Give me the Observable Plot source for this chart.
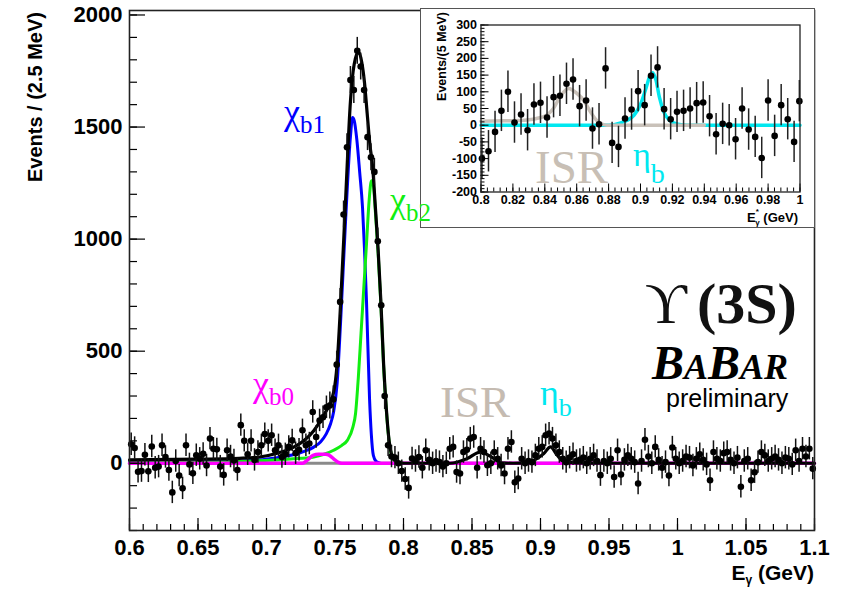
<!DOCTYPE html>
<html>
<head>
<meta charset="utf-8">
<script src="https://cdn.jsdelivr.net/npm/d3@7"></script>
<script src="https://cdn.jsdelivr.net/npm/@observablehq/plot@0.6"></script>
<style>
  html, body { margin: 0; background: #fff; }
  #chart { position: relative; width: 843px; height: 589px; overflow: hidden; background: #fff; }
  #chart > * { position: absolute; }
  #main { left: 0; top: 0; }
  #inset { left: 420px; top: 8px; width: 395px; height: 220px; box-sizing: border-box; border: 1.5px solid #555; background: #fff; }
  #labels { left: 0; top: 0; pointer-events: none; }
</style>
</head>
<body>
<div id="chart">
  <div id="main"></div>
  <div id="inset"></div>
</div>
<script>
// ---------- Full photon spectrum: 2.5 MeV bins, 0.6 - 1.1 GeV ----------
const binLow = 0.6;
const binWidth = 0.0025;
const counts = [
  85, 68, -38, -35, 38, -36, 75, -20, -15, 80,
  28, -30, -130, 10, -55, -112, 80, -5, -45, 36,
  20, 42, -10, 110, 65, 62, -15, -52, 58, 30,
  12, -30, 170, 100, 40, 100, 15, 50, 80, 130,
  100, 125, 58, 80, 28, 40, 73, 102, 45, 60,
  147, 80, 88, 229, 117, 191, 205, 250, 258, 285,
  440, 720, 1110, 1410, 1710, 1665, 1840, 1770, 1665, 1455,
  1365, 1300, 990, 705, 300, 80, 30, 25, 0, -35,
  -70, -110, 21, 10, 28, -20, 58, 15, 0, 10,
  5, -15, 0, 65, 73, -39, -46, 50, 60, 110,
  117, -20, 65, 50, -9, 0, 50, 20, -10, -46,
  65, 95, -85, -68, 20, 0, 10, 5, 35, 65,
  73, 125, 132, 110, 80, 50, 20, 5, 25, 40,
  10, 15, 25, 0, 20, 35, 10, -53, 10, 0,
  20, -61, 58, -50, 15, 35, 20, 5, -90, 10,
  105, 30, 0, 73, 15, -20, 5, -55, 70, 20,
  0, 10, 30, 25, -10, 20, 40, 15, -5, -76,
  50, 20, 10, 45, 50, 15, 0, 25, -105, 10,
  20, -76, -40, 5, 50, 35, 10, 20, 30, 15,
  0, 25, 20, -5, 58, 10, 65, 30, 65, -24
];
const errPeak = 60;   // statistical error on the chi_b peak bins
const errFlat = 50;   // statistical error elsewhere

// fitted components, sampled as [E (GeV), events]
const chib1Fit = [[0.6,4],[0.65,6],[0.69,12],[0.705,22],[0.715,32],[0.727,52],[0.7345,72],[0.7394,95],[0.7435,130],[0.7467,175],[0.749,230],[0.7516,360],[0.754,620],[0.7577,1080],[0.7613,1460],[0.7628,1543],[0.764,1530],[0.766,1440],[0.768,1300],[0.7701,1140],[0.7715,960],[0.773,720],[0.7752,290],[0.7765,130],[0.778,35],[0.78,8],[0.783,0]];
const chib2Fit = [[0.6,2],[0.65,4],[0.69,10],[0.7175,19],[0.7345,28],[0.742,40],[0.749,58],[0.755,80],[0.759,102],[0.763,160],[0.765,222],[0.767,380],[0.769,580],[0.771,780],[0.773,980],[0.775,1180],[0.7766,1260],[0.778,1240],[0.7795,1120],[0.7815,935],[0.7835,705],[0.7855,430],[0.7875,235],[0.7895,97],[0.7915,33],[0.794,9],[0.797,1],[0.8,0]];
const chib0Fit = [[0.6,0],[0.7263,0],[0.73,15],[0.734,35],[0.738,40],[0.743,40],[0.746,35],[0.749,20],[0.752,6],[0.755,0],[1.1,0]];
const totalFit = [[0.6,15],[0.65,18],[0.68,22],[0.695,28],[0.7078,45],[0.7175,65],[0.7272,100],[0.7345,145],[0.7418,215],[0.7491,320],[0.7515,440],[0.754,700],[0.7577,1171],[0.7613,1617],[0.764,1780],[0.7672,1835],[0.7695,1790],[0.7715,1700],[0.7735,1560],[0.7755,1420],[0.7775,1320],[0.7795,1140],[0.7815,950],[0.7835,720],[0.7855,440],[0.7875,240],[0.7895,100],[0.7915,35],[0.794,10],[0.797,2],[0.8,0],[0.834,0],[0.8465,21],[0.856,50],[0.866,21],[0.871,2],[0.88,0],[0.89,3],[0.8951,13],[0.9024,43],[0.9073,73],[0.9122,36],[0.917,8],[0.925,2],[0.94,0],[1.1,0]];
const zeroLine = [[0.6,0],[1.1,0]];

const xTicks = [0.6, 0.65, 0.7, 0.75, 0.8, 0.85, 0.9, 0.95, 1, 1.05, 1.1];
const xTickLabels = ["0.6","0.65","0.7","0.75","0.8","0.85","0.9","0.95","1","1.05","1.1"];
const yTicks = [0, 500, 1000, 1500, 2000];
const yTickLabels = ["0","500","1000","1500","2000"];

// ---------- Zoom on 0.8 - 1.0 GeV after chi_b subtraction ----------
const insetE = [0.8006,0.8047,0.8088,0.8128,0.8169,0.8210,0.8251,0.8292,0.8332,0.8373,
  0.8414,0.8455,0.8495,0.8536,0.8577,0.8618,0.8659,0.8699,0.8740,0.8781,
  0.8822,0.8862,0.8903,0.8944,0.8985,0.9026,0.9066,0.9107,0.9148,0.9189,
  0.9229,0.9270,0.9311,0.9352,0.9393,0.9433,0.9474,0.9515,0.9556,0.9596,
  0.9637,0.9678,0.9719,0.9760,0.9800,0.9841,0.9882,0.9923,0.9963,0.9996];
const insetCounts = [-100,-78,-20,43,100,8,32,-15,62,67,
  23,84,88,124,137,57,74,-10,3,170,
  -53,-65,20,47,102,60,148,173,48,18,
  40,43,50,66,68,27,-27,4,0,-42,
  50,-13,-35,-98,74,-32,60,18,-50,72];
const insetErr = 62;
const isrFit = [[0.8,12],[0.815,13],[0.8243,14],[0.8348,20],[0.8411,30],[0.8454,50],[0.8496,85],[0.8549,110],[0.8601,95],[0.8643,75],[0.8686,40],[0.8728,13],[0.8759,3],[0.879,0],[0.94,0]];
const etabFit = [[0.8,0],[0.88,0],[0.8876,7],[0.8918,15],[0.896,30],[0.9002,65],[0.9034,110],[0.9061,150],[0.9076,157],[0.9097,135],[0.9118,85],[0.9146,40],[0.9181,15],[0.9234,3],[0.9297,0],[1.0,0]];

const insetXTicks = [0.8, 0.82, 0.84, 0.86, 0.88, 0.9, 0.92, 0.94, 0.96, 0.98, 1];
const insetXLabels = ["0.8","0.82","0.84","0.86","0.88","0.9","0.92","0.94","0.96","0.98","1"];
const insetYTicks = [-200, -150, -100, -50, 0, 50, 100, 150, 200, 250, 300];
const insetYLabels = ["-200","-150","-100","-50","0","50","100","150","200","250","300"];

// ---------- drawing ----------
const SANS = "'Liberation Sans', Arial, Helvetica, sans-serif";
const SERIF = "'Liberation Serif', 'Times New Roman', 'DejaVu Serif', serif";
const pt = {x: d => d[0], y: d => d[1]};

const mainData = counts.map((c, i) => ({
  E: binLow + binWidth * (i + 0.5),
  n: c,
  err: c > 250 ? errPeak : errFlat
}));

const mainPlot = Plot.plot({
  width: 843, height: 589,
  marginLeft: 129, marginRight: 29, marginTop: 10, marginBottom: 59,
  x: {domain: [0.6, 1.1]},
  y: {domain: [-300, 2020]},
  style: {fontFamily: SANS, background: "transparent", color: "#000", overflow: "visible"},
  marks: [
    Plot.line(zeroLine, {...pt, stroke: "#8a8a8a", strokeWidth: 3}),
    Plot.line(chib1Fit, {...pt, stroke: "#0000ff", strokeWidth: 3, curve: "monotone-x"}),
    Plot.line(chib2Fit, {...pt, stroke: "#11ee11", strokeWidth: 3, curve: "monotone-x"}),
    Plot.line(chib0Fit, {...pt, stroke: "#ff00ff", strokeWidth: 3.5, curve: "monotone-x"}),
    Plot.line(totalFit, {...pt, stroke: "#000", strokeWidth: 3.2, curve: "monotone-x"}),
    Plot.ruleX(mainData, {x: "E", y1: d => d.n - d.err, y2: d => d.n + d.err, stroke: "#111", strokeWidth: 1.5}),
    Plot.dot(mainData, {x: "E", y: "n", r: 3.3, fill: "#000", stroke: null}),
    Plot.axisX(d3.range(0.6, 1.1001, 0.01), {tickSize: -6, tickFormat: () => "", label: null, strokeWidth: 1.2}),
    Plot.axisX(xTicks, {tickSize: -12, tickFormat: () => "", label: null, strokeWidth: 1.2}),
    Plot.axisX(xTicks, {tickSize: 0, tickPadding: 9, tickFormat: (d, i) => xTickLabels[i], fontSize: 22, fontWeight: "bold", label: null}),
    Plot.axisY(d3.range(-300, 2001, 100), {tickSize: -8, tickFormat: () => "", label: null, strokeWidth: 1.2}),
    Plot.axisY(yTicks, {tickSize: -16, tickFormat: () => "", label: null, strokeWidth: 1.2}),
    Plot.axisY(yTicks, {tickSize: 0, tickPadding: 7, tickFormat: (d, i) => yTickLabels[i], fontSize: 22, fontWeight: "bold", label: null}),
    Plot.frame({stroke: "#222", strokeWidth: 1.6})
  ]
});
document.getElementById("main").append(mainPlot);

const insetData = insetCounts.map((c, i) => ({E: insetE[i], n: c}));
const insetPlot = Plot.plot({
  width: 392, height: 217,
  marginLeft: 59.5, marginRight: 13.5, marginTop: 15.5, marginBottom: 34.5,
  x: {domain: [0.8, 1.0]},
  y: {domain: [-200, 300]},
  style: {fontFamily: SANS, background: "transparent", color: "#000", overflow: "visible"},
  marks: [
    Plot.line(etabFit, {...pt, stroke: "#00e8f0", strokeWidth: 3.5, curve: "monotone-x"}),
    Plot.line(isrFit, {...pt, stroke: "#c9c1b9", strokeWidth: 3.5, curve: "monotone-x"}),
    Plot.ruleX(insetData, {x: "E", y1: d => d.n - insetErr, y2: d => d.n + insetErr, stroke: "#222", strokeWidth: 1.5}),
    Plot.dot(insetData, {x: "E", y: "n", r: 3.3, fill: "#000", stroke: null}),
    Plot.axisX(d3.range(0.8, 1.0001, 0.004), {tickSize: -4, tickFormat: () => "", label: null}),
    Plot.axisX(insetXTicks, {tickSize: -8, tickFormat: () => "", label: null}),
    Plot.axisX(insetXTicks, {tickSize: 0, tickPadding: 3, tickFormat: (d, i) => insetXLabels[i], fontSize: 12.5, fontWeight: "bold", label: null}),
    Plot.axisY(d3.range(-200, 301, 10), {tickSize: -4, tickFormat: () => "", label: null}),
    Plot.axisY(insetYTicks, {tickSize: -8, tickFormat: () => "", label: null}),
    Plot.axisY(insetYTicks, {tickSize: 0, tickPadding: 4, tickFormat: (d, i) => insetYLabels[i], fontSize: 12.5, fontWeight: "bold", label: null}),
    Plot.frame({stroke: "#222", strokeWidth: 1.3})
  ]
});
document.getElementById("inset").append(insetPlot);

// ---------- titles and annotations ----------
const svg = d3.select("#chart").append("svg").attr("id", "labels").attr("width", 843).attr("height", 589);
function addText(x, y, parts, attrs = {}) {
  const t = svg.append("text").attr("x", x).attr("y", y);
  for (const [k, v] of Object.entries(attrs)) t.attr(k, v);
  for (const p of parts) {
    const s = t.append("tspan").text(p.text);
    for (const [k, v] of Object.entries(p)) if (k !== "text") s.attr(k, v);
  }
  return t;
}

// axis titles
addText(0, 0, [{text: "Events / (2.5 MeV)"}],
  {transform: "translate(42,12) rotate(-90)", "text-anchor": "end", "font-family": SANS, "font-size": 20, "font-weight": "bold"});
addText(814, 580, [{text: "E"}, {text: "γ", "font-size": 12, dy: 4}, {text: " (GeV)", dy: -4}],
  {"text-anchor": "end", "font-family": SANS, "font-size": 21, "font-weight": "bold"});

// component labels
addText(284, 124, [{text: "χ", "font-size": 36}, {text: "b1", "font-size": 25, dy: 9}], {"font-family": SERIF, fill: "#0000ff"});
addText(390, 212, [{text: "χ", "font-size": 36}, {text: "b2", "font-size": 25, dy: 9}], {"font-family": SERIF, fill: "#11ee11"});
addText(253, 396, [{text: "χ", "font-size": 36}, {text: "b0", "font-size": 25, dy: 9}], {"font-family": SERIF, fill: "#ff00ff"});
addText(440, 417, [{text: "ISR"}], {"font-family": SERIF, "font-size": 45, fill: "#c5bbb1"});
addText(540, 405, [{text: "η", "font-size": 36}, {text: "b", "font-size": 26, dy: 11}], {"font-family": SERIF, fill: "#00e8f0"});

// experiment tag
addText(645, 323, [{text: "ϒ"}], {"font-family": SERIF, "font-size": 58, fill: "#111"});
addText(697, 323, [{text: "(3S)"}], {"font-family": SERIF, "font-size": 58, "font-weight": "bold", fill: "#111"});
addText(652, 379, [{text: "B", "font-size": 48}, {text: "A", "font-size": 36}, {text: "B", "font-size": 48}, {text: "AR", "font-size": 36}],
  {"font-family": SERIF, "font-weight": "bold", "font-style": "italic", fill: "#000"});
addText(666, 407, [{text: "preliminary"}], {"font-family": SANS, "font-size": 25, fill: "#000"});

// inset annotations and axis titles
addText(535, 183, [{text: "ISR"}], {"font-family": SERIF, "font-size": 47, fill: "#c8bfb5"});
addText(633, 166, [{text: "η", "font-size": 34}, {text: "b", "font-size": 28, dy: 17}], {"font-family": SERIF, fill: "#00e8f0"});
addText(0, 0, [{text: "Events/(5 MeV)"}],
  {transform: "translate(446,12) rotate(-90)", "text-anchor": "end", "font-family": SANS, "font-size": 12.5, "font-weight": "bold"});
addText(798, 222, [{text: "E"}, {text: "*", "font-size": 8, dy: -8}, {text: "γ", "font-size": 8, dx: -3.5, dy: 11}, {text: " (GeV)", dy: -3}],
  {"text-anchor": "end", "font-family": SANS, "font-size": 13, "font-weight": "bold"});
</script>
</body>
</html>
